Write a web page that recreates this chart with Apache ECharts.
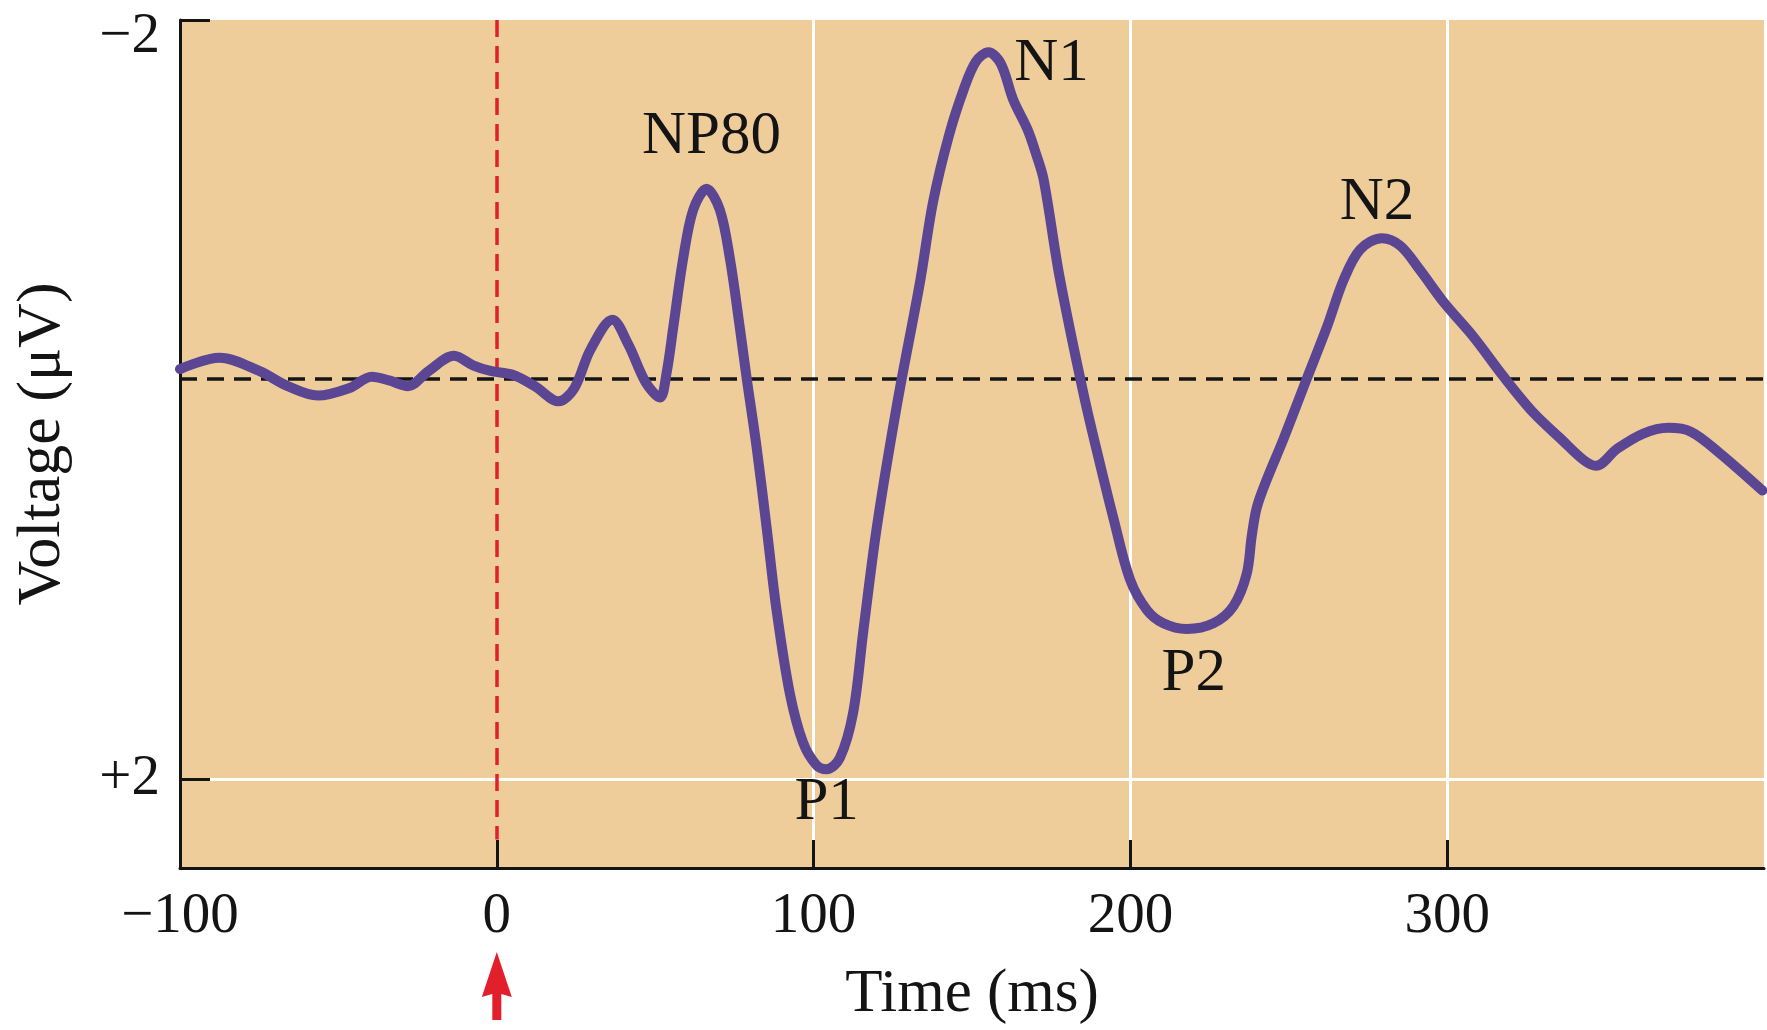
<!DOCTYPE html>
<html>
<head>
<meta charset="utf-8">
<script src="https://cdn.jsdelivr.net/npm/echarts@6/dist/echarts.min.js"></script>
<style>
  html, body { margin: 0; padding: 0; background: #ffffff; }
  #chart { width: 1767px; height: 1030px; }
</style>
</head>
<body>
<div id="chart"></div>
<script>
// Averaged event-related potential: time after stimulus (ms) and voltage (µV)
const timeMs = [
  -100, -87.5, -75, -66, -56.5, -46.5, -39.5, -34, -28, -21.5,
  -13.5, -7.5, -2, 5, 12, 19.5, 24.5, 29.5, 36.5, 41.5,
  47, 51.5, 53.6, 55.7, 58.8, 62, 66.2, 70.4, 73.6, 76.7,
  78.8, 82, 85.2, 88.3, 92.5, 96.7, 101, 104.1, 108.3, 112.5,
  115.7, 119.9, 126.3, 133.6, 137.7, 142.7, 147.3, 151.2, 155.2, 159.1,
  163, 167.6, 170.1, 172.6, 177.6, 185.2, 190.4, 194.7, 199.9, 205.2,
  210.4, 217.8, 226.2, 232.5, 236.7, 238.3, 239.9, 243.1, 248.3, 255.7,
  262, 267.3, 272.5, 279.4, 285.2, 291.5, 299, 308.3, 317.8, 327.2,
  336, 343.1, 347, 353.7, 361.9, 369.8, 376.9, 385.8, 399.5
];
const voltageUV = [
  -0.16, -0.22, -0.15, -0.07, -0.02, -0.06, -0.12, -0.10, -0.07, -0.15,
  -0.23, -0.18, -0.15, -0.13, -0.07, 0.01, -0.06, -0.26, -0.42, -0.29,
  -0.09, -0.01, -0.14, -0.38, -0.74, -1.00, -1.11, -1.00, -0.74, -0.38,
  -0.12, 0.25, 0.68, 1.11, 1.55, 1.81, 1.93, 1.95, 1.89, 1.65,
  1.22, 0.68, 0.03, -0.62, -1.04, -1.39, -1.63, -1.78, -1.83, -1.77,
  -1.58, -1.42, -1.30, -1.16, -0.65, -0.03, 0.34, 0.63, 0.95, 1.11,
  1.18, 1.21, 1.18, 1.09, 0.92, 0.72, 0.57, 0.42, 0.21, -0.11,
  -0.38, -0.63, -0.79, -0.85, -0.81, -0.68, -0.51, -0.33, -0.12, 0.07,
  0.21, 0.32, 0.35, 0.26, 0.18, 0.15, 0.17, 0.28, 0.48
];

// Named components and the sample each one marks
const peakNames = ['NP80', 'P1', 'N1', 'P2', 'N2'];
const peakIndex = [26, 37, 48, 61, 73];

// Axis ticks and labels
const xTickValues = [0, 100, 200, 300];
const xLabelValues = [-100, 0, 100, 200, 300];
const yTickValues = [-2, 2];
const xRange = [-100, 400];
const yRange = [-2, 2.47];

// Reference lines
const baselineUV = -0.11;
const stimulusMs = 0;
const stimulusLineEndUV = 2.32;

const SERIF = '"Liberation Serif", "DejaVu Serif", serif';
const INK = '#141414';
const TRACE = '#5b4694';
const STIM_RED = '#e1202b';

const chart = echarts.init(document.getElementById('chart'), null, { renderer: 'canvas' });

const minus = (v) => (v < 0 ? '\u2212' + Math.abs(v) : String(v));

const peakLabelOffset = {
  NP80: [5, -52],
  P1:   [0, 34],
  N1:   [63, 12],
  P2:   [7, 45],
  N2:   [-5, -35]
};

const option = {
  animation: false,
  backgroundColor: '#ffffff',
  grid: {
    left: 180, right: 3, top: 20, bottom: 162,
    show: true, backgroundColor: '#efcd9b', borderWidth: 0,
    containLabel: false
  },
  xAxis: {
    type: 'value',
    min: xRange[0], max: xRange[1],
    interval: 100,
    name: 'Time (ms)',
    nameLocation: 'middle',
    nameGap: 96,
    nameTextStyle: { fontFamily: SERIF, fontSize: 61, color: INK },
    axisLine: { show: true, onZero: false, lineStyle: { color: INK, width: 3 } },
    axisTick: {
      show: true, inside: true, length: 28,
      customValues: xTickValues,
      lineStyle: { color: INK, width: 3 }
    },
    axisLabel: {
      show: true, margin: 21,
      customValues: xLabelValues,
      fontFamily: SERIF, fontSize: 57, color: INK,
      formatter: (v) => minus(v)
    },
    splitLine: {
      show: true, showMinLine: true, showMaxLine: true,
      lineStyle: { color: ['rgba(0,0,0,0)', '#ffffff', '#ffffff', '#ffffff'], width: 3 }
    }
  },
  yAxis: {
    type: 'value',
    inverse: true,
    min: yRange[0], max: yRange[1],
    interval: 4,
    name: 'Voltage (\u03bcV)',
    nameLocation: 'middle',
    nameGap: 106,
    nameRotate: 90,
    nameTextStyle: { fontFamily: SERIF, fontSize: 62, color: INK },
    axisLine: { show: true, onZero: false, lineStyle: { color: INK, width: 3 } },
    axisTick: {
      show: true, inside: true, length: 30,
      customValues: yTickValues,
      lineStyle: { color: INK, width: 3 }
    },
    axisLabel: {
      show: true, margin: 20,
      customValues: yTickValues,
      fontFamily: SERIF, fontSize: 57, color: INK,
      formatter: (v) => (v < 0 ? '{top|' + minus(v) + '}' : '+' + v),
      rich: {
        top: { fontFamily: SERIF, fontSize: 57, color: INK, padding: [34, 0, 0, 0] }
      }
    },
    splitLine: {
      show: true, showMinLine: true, showMaxLine: true,
      lineStyle: { color: ['rgba(0,0,0,0)', '#ffffff'], width: 3 }
    }
  },
  series: [
    {
      type: 'line',
      name: 'ERP',
      data: timeMs.map((t, i) => [t, voltageUV[i]]),
      smooth: 0.33,
      showSymbol: false,
      symbol: 'none',
      clip: true,
      z: 5,
      lineStyle: { color: TRACE, width: 10, cap: 'round', join: 'round' },
      markLine: {
        silent: true,
        symbol: 'none',
        label: { show: false },
        animation: false,
        data: [
          [
            { coord: [xRange[0], baselineUV], lineStyle: { color: INK, width: 3.5, type: [17, 10] } },
            { coord: [xRange[1], baselineUV] }
          ],
          [
            { coord: [stimulusMs, yRange[0]], lineStyle: { color: STIM_RED, width: 3.5, type: [17, 9] } },
            { coord: [stimulusMs, stimulusLineEndUV] }
          ]
        ]
      },
      markPoint: {
        silent: true,
        symbol: 'circle',
        symbolSize: 0,
        data: peakNames.map((name, k) => ({
          name: name,
          coord: [timeMs[peakIndex[k]], voltageUV[peakIndex[k]]],
          label: {
            show: true,
            position: 'inside',
            offset: peakLabelOffset[name],
            formatter: name,
            fontFamily: SERIF, fontSize: 61, color: INK
          }
        }))
      }
    }
  ]
};

chart.setOption(option);

// Stimulus-onset arrow under the 0 ms label
const ax = chart.convertToPixel({ xAxisIndex: 0 }, stimulusMs);
chart.setOption({
  graphic: [{
    type: 'polygon',
    silent: true,
    shape: {
      points: [
        [ax, 952], [ax + 15, 997], [ax + 4.5, 994], [ax + 4.5, 1020],
        [ax - 4.5, 1020], [ax - 4.5, 994], [ax - 15, 997]
      ]
    },
    style: { fill: STIM_RED }
  }]
});
</script>
</body>
</html>
